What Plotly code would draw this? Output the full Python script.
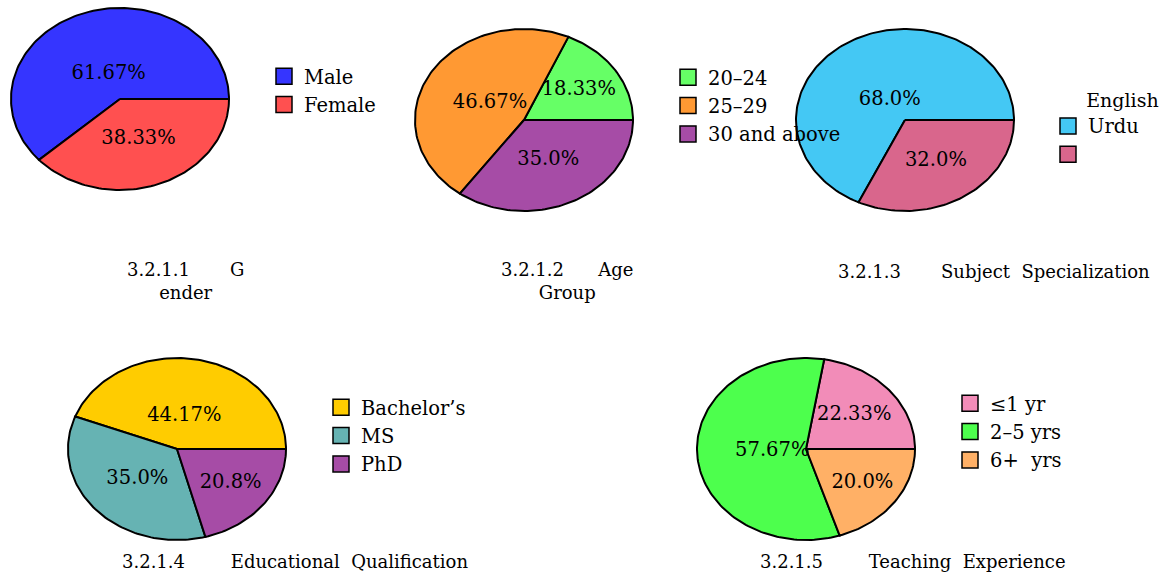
import numpy as np
import plotly.graph_objects as go

W, H = 1164, 572

# ---------------- data ----------------
gender_labels = ["Male", "Female"]
gender_values = [61.67, 38.33]

age_labels = ["20–24", "25–29", "30 and above"]
age_values = [18.33, 46.67, 35.0]

subject_labels = ["English", "Urdu"]
subject_values = [68.0, 32.0]

edu_labels = ["Bachelor’s", "MS", "PhD"]
edu_values = [44.17, 35.0, 20.8]

exp_labels = ["≤1 yr", "2–5 yrs", "6+\u00a0 yrs"]
exp_values = [22.33, 57.67, 20.0]

titles = [
    "3.2.1.1" + "\u00a0" * 7 + "G<br>ender",
    "3.2.1.2" + "\u00a0" * 6 + "Age<br>Group",
    "3.2.1.3" + "\u00a0" * 7 + "Subject\u00a0 Specialization",
    "3.2.1.4" + "\u00a0" * 8 + "Educational\u00a0 Qualification",
    "3.2.1.5" + "\u00a0" * 8 + "Teaching\u00a0 Experience",
]

# ---------------- styles ----------------
gender_colors = ["#3535ff", "#ff5050"]
age_colors = ["#66ff66", "#ff9933", "#a64ca6"]
subject_colors = ["#44c8f4", "#d9668c"]
edu_colors = ["#ffcc00", "#66b3b3", "#a64ca6"]
exp_colors = ["#f28cb8", "#4dff4d", "#ffb066"]

FONT = "DejaVu Serif"
LABEL_SIZE = 19.5
LEGEND_SIZE = 19.5
TITLE_SIZE = 18
RX, RY, PAD = 109, 91, 1.03
centers = [(120, 99), (524, 120), (905, 120), (177, 449), (806, 449)]
label_r = [[0.29, 0.475], [0.6, 0.36, 0.49], [0.26, 0.53], [0.37, 0.49, 0.62], [0.58, 0.31, 0.64]]
legend_pos = [(264, 57), (668, 58), (1048, 82), (321, 388), (950, 384)]
title_pos = [(185, 281), (567, 281), (994, 271), (295, 561), (913, 561)]

pies = [
    (gender_labels, gender_values, gender_colors),
    (age_labels, age_values, age_colors),
    (subject_labels, subject_values, subject_colors),
    (edu_labels, edu_values, edu_colors),
    (exp_labels, exp_values, exp_colors),
]

fig = go.Figure()
layout = dict(
    width=W, height=H, margin=dict(l=0, r=0, t=0, b=0, autoexpand=False),
    paper_bgcolor="white", plot_bgcolor="white",
    font=dict(family=FONT, size=18, color="black"),
    annotations=[],
)

for i, (labels, values, colors) in enumerate(pies):
    k = "" if i == 0 else str(i + 1)
    xa, ya = "x" + k, "y" + k
    lg = "legend" + k
    cx, cy = centers[i]
    layout["xaxis" + k] = dict(
        domain=[(cx - RX * PAD) / W, (cx + RX * PAD) / W],
        range=[-PAD, PAD], visible=False, fixedrange=True, anchor=ya)
    layout["yaxis" + k] = dict(
        domain=[1 - (cy + RY * PAD) / H, 1 - (cy - RY * PAD) / H],
        range=[-PAD, PAD], visible=False, fixedrange=True, anchor=xa)

    vals = np.array(values, dtype=float)
    bounds = np.concatenate([[0], np.cumsum(vals)]) / vals.sum() * 2 * np.pi
    for j in range(len(vals)):
        t0, t1 = bounds[j], bounds[j + 1]
        n = max(int(240 * (t1 - t0) / (2 * np.pi)), 4)
        th = np.linspace(t0, t1, n)
        px = np.concatenate([[0], np.cos(th), [0]])
        py = np.concatenate([[0], np.sin(th), [0]])
        fig.add_trace(go.Scatter(
            x=px, y=py, xaxis=xa, yaxis=ya, mode="lines", fill="toself",
            fillcolor=colors[j], line=dict(color="black", width=2),
            showlegend=False, hoverinfo="skip"))
    # percentage labels
    mids = (bounds[:-1] + bounds[1:]) / 2
    rr = np.array(label_r[i])
    fig.add_trace(go.Scatter(
        x=rr * np.cos(mids), y=rr * np.sin(mids), xaxis=xa, yaxis=ya,
        mode="text", text=[f"{v}%" for v in values],
        textfont=dict(family=FONT, size=LABEL_SIZE, color="black"),
        textposition="middle center", cliponaxis=False,
        showlegend=False, hoverinfo="skip"))
    # legend entries
    names = list(labels)
    if i == 2:
        # reproduce the shifted legend of the reference
        names = [labels[1], ""]
    for j in range(len(vals)):
        fig.add_trace(go.Scatter(
            x=[None], y=[None], xaxis=xa, yaxis=ya, mode="markers",
            marker=dict(symbol="square", size=16, color=colors[j],
                        line=dict(color="black", width=1.5)),
            name=names[j], legend=lg, legendgroup=f"g{i}_{j}", showlegend=True))
    lx, ly = legend_pos[i]
    leg = dict(x=lx / W, y=1 - ly / H, xanchor="left", yanchor="top",
               bgcolor="rgba(0,0,0,0)", borderwidth=0,
               font=dict(family=FONT, size=LEGEND_SIZE, color="black"),
               traceorder="grouped", tracegroupgap=0, itemclick=False)
    if i == 2:
        leg["title"] = dict(text="\u00a0" * 6 + labels[0], side="top",
                            font=dict(family=FONT, size=19, color="black"))
    layout[lg] = leg
    tx, ty = title_pos[i]
    layout["annotations"].append(dict(
        text=titles[i], x=tx / W, y=1 - ty / H, xref="paper", yref="paper",
        xanchor="center", yanchor="middle", showarrow=False, align="center",
        font=dict(family=FONT, size=TITLE_SIZE, color="black")))

fig.update_layout(**layout)
fig.write_html("out.html")
